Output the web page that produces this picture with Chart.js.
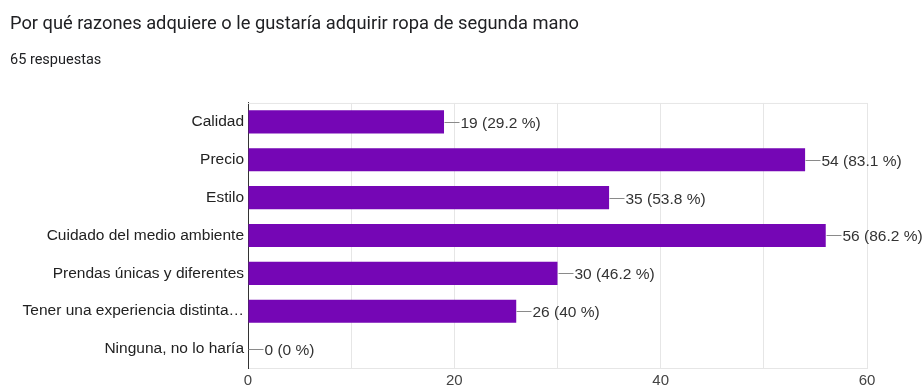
<!DOCTYPE html>
<html>
<head>
<meta charset="utf-8">
<script src="https://cdn.jsdelivr.net/npm/chart.js@4/dist/chart.umd.min.js"></script>
<style>
  html, body { margin: 0; padding: 0; background: #fff; }
  #wrap { width: 924px; height: 392px; position: relative; }
</style>
</head>
<body>
<div id="wrap"><canvas id="barChart"></canvas></div>
<script>
const titleText = 'Por qué razones adquiere o le gustaría adquirir ropa de segunda mano'
const subtitleText = '65 respuestas'
const totalResponses = 65

const categories = [
  'Calidad',
  'Precio',
  'Estilo',
  'Cuidado del medio ambiente',
  'Prendas únicas y diferentes',
  'Tener una experiencia distinta…',
  'Ninguna, no lo haría'
]
const counts = [19, 54, 35, 56, 30, 26, 0]
const tickLabels = [0, 20, 40, 60]

const purple = '#7506b5'
const labelFont = '"Liberation Sans", Arial, sans-serif'

function pctText(v) {
  const p = Math.round(v / totalResponses * 1000) / 10
  return v + ' (' + p + ' %)'
}

// leader line + "n (p %)" next to each bar end
const valueLabels = {
  id: 'valueLabels',
  afterDatasetsDraw(chart) {
    const ctx = chart.ctx
    const meta = chart.getDatasetMeta(0)
    ctx.save()
    ctx.font = '15.5px ' + labelFont
    ctx.textBaseline = 'middle'
    ctx.textAlign = 'left'
    meta.data.forEach((bar, i) => {
      const x = Math.round(bar.x) + 0.5
      const y = Math.round(bar.y) + 0.5
      ctx.strokeStyle = '#8a8a8a'
      ctx.lineWidth = 1
      ctx.beginPath()
      ctx.moveTo(x, y)
      ctx.lineTo(x + 15, y)
      ctx.stroke()
      ctx.fillStyle = '#333'
      ctx.fillText(pctText(counts[i]), x + 16, y + 1)
    })
    ctx.restore()
  }
}

// faint frame line along the top of the plot
const topLine = {
  id: 'topLine',
  beforeDatasetsDraw(chart) {
    const { ctx, chartArea } = chart
    ctx.save()
    ctx.strokeStyle = '#e6e6e6'
    ctx.lineWidth = 1
    ctx.beginPath()
    ctx.moveTo(chartArea.left, chartArea.top + 0.5)
    ctx.lineTo(chartArea.right, chartArea.top + 0.5)
    ctx.stroke()
    ctx.restore()
  }
}

const context = document.getElementById('barChart')

new Chart(context, {
  type: 'bar',
  data: {
    labels: categories,
    datasets: [{
      data: counts,
      backgroundColor: purple,
      borderWidth: 0,
      categoryPercentage: 1,
      barPercentage: 0.61
    }]
  },
  options: {
    indexAxis: 'y',
    responsive: true,
    maintainAspectRatio: false,
    animation: false,
    layout: { padding: { left: 10, right: 57, top: 0, bottom: 2 } },
    plugins: {
      legend: { display: false },
      tooltip: { enabled: false },
      title: {
        display: true,
        text: titleText,
        align: 'start',
        color: '#202124',
        font: { family: 'Roboto, Arial, sans-serif', size: 18.3, weight: 'normal' },
        padding: { top: 13, bottom: 6 }
      },
      subtitle: {
        display: true,
        text: subtitleText,
        align: 'start',
        color: '#202124',
        font: { family: 'Roboto, Arial, sans-serif', size: 14.5 },
        padding: { top: 11, bottom: 33.6 }
      }
    },
    scales: {
      x: {
        min: 0,
        max: 60,
        ticks: {
          stepSize: 10,
          padding: 5.5,
          color: '#444',
          font: { family: labelFont, size: 15, lineHeight: 1 },
          callback: v => tickLabels.includes(v) ? String(v) : ''
        },
        grid: { color: '#e6e6e6', drawTicks: false },
        border: { color: '#e6e6e6' },
        afterFit(scale) { scale.height = 22 }
      },
      y: {
        ticks: {
          padding: 4,
          color: '#222',
          font: { family: labelFont, size: 15.5 }
        },
        grid: { display: false, drawTicks: false },
        border: { color: '#333', width: 1 },
        afterFit(scale) { scale.width = 238 }
      }
    }
  },
  plugins: [topLine, valueLabels]
})
</script>
</body>
</html>
